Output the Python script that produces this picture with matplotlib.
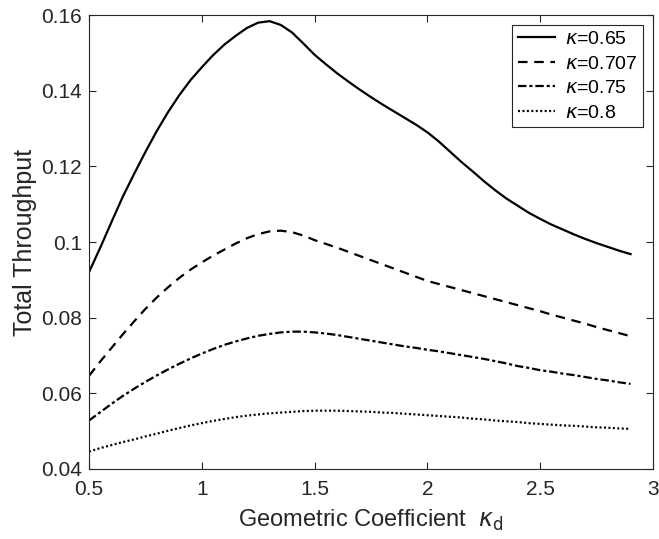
import numpy as np
import matplotlib
matplotlib.use("Agg")
import matplotlib.pyplot as plt

x = [0.5, 0.55, 0.6, 0.65, 0.7, 0.75, 0.8, 0.85, 0.9, 0.95,
     1.0, 1.05, 1.1, 1.15, 1.2, 1.25, 1.3, 1.35, 1.4, 1.45,
     1.5, 1.55, 1.6, 1.65, 1.7, 1.75, 1.8, 1.85, 1.9, 1.95,
     2.0, 2.05, 2.1, 2.15, 2.2, 2.25, 2.3, 2.35, 2.4, 2.45,
     2.5, 2.55, 2.6, 2.65, 2.7, 2.75, 2.8, 2.85, 2.9]

k065 = [0.0920, 0.0985, 0.1053, 0.1120, 0.1180, 0.1238, 0.1293, 0.1343, 0.1388, 0.1428,
        0.1462, 0.1494, 0.1522, 0.1545, 0.1566, 0.1580, 0.1584, 0.1574, 0.1554, 0.1525,
        0.1495, 0.1470, 0.1446, 0.1424, 0.1403, 0.1383, 0.1364, 0.1346, 0.1328, 0.1310,
        0.1290, 0.1266, 0.1239, 0.1212, 0.1187, 0.1161, 0.1137, 0.1115, 0.1096, 0.1077,
        0.1061, 0.1046, 0.1033, 0.1020, 0.1008, 0.0997, 0.0987, 0.0977, 0.0968]
k0707 = [0.0646, 0.0684, 0.0720, 0.0756, 0.0790, 0.0823, 0.0853, 0.0880, 0.0905, 0.0927,
         0.0946, 0.0964, 0.0980, 0.0996, 0.1010, 0.1021, 0.1028, 0.1030, 0.1026, 0.1017,
         0.1005, 0.0995, 0.0985, 0.0974, 0.0963, 0.0952, 0.0941, 0.0930, 0.0919, 0.0908,
         0.0897, 0.0889, 0.0881, 0.0873, 0.0865, 0.0857, 0.0849, 0.0841, 0.0833, 0.0825,
         0.0817, 0.0808, 0.0800, 0.0792, 0.0784, 0.0775, 0.0767, 0.0759, 0.0751]
k075 = [0.0528, 0.0550, 0.0572, 0.0593, 0.0612, 0.0630, 0.0647, 0.0663, 0.0678, 0.0692,
        0.0705, 0.0717, 0.0728, 0.0737, 0.0745, 0.0752, 0.0757, 0.0761, 0.0763, 0.0763,
        0.0761, 0.0758, 0.0754, 0.0749, 0.0744, 0.0739, 0.0734, 0.0729, 0.0724, 0.0720,
        0.0715, 0.0711, 0.0706, 0.0701, 0.0696, 0.0691, 0.0685, 0.0679, 0.0672, 0.0667,
        0.0661, 0.0657, 0.0652, 0.0648, 0.0643, 0.0638, 0.0634, 0.0629, 0.0625]
k080 = [0.0446, 0.0455, 0.0463, 0.0471, 0.0478, 0.0486, 0.0493, 0.0501, 0.0508, 0.0515,
        0.0521, 0.0527, 0.0532, 0.0537, 0.0541, 0.0544, 0.0547, 0.0549, 0.0551, 0.0553,
        0.0554, 0.0554, 0.0554, 0.0553, 0.0552, 0.0551, 0.0549, 0.0548, 0.0546, 0.0544,
        0.0542, 0.0540, 0.0538, 0.0536, 0.0533, 0.0531, 0.0528, 0.0526, 0.0524, 0.0521,
        0.0519, 0.0517, 0.0515, 0.0514, 0.0512, 0.0510, 0.0509, 0.0507, 0.0506]

labels = [r"$\kappa$=0.65", r"$\kappa$=0.707", r"$\kappa$=0.75", r"$\kappa$=0.8"]
xticks = [0.5, 1, 1.5, 2, 2.5, 3]
xticklabels = ['0.5', '1', '1.5', '2', '2.5', '3']
yticks = [0.04, 0.06, 0.08, 0.1, 0.12, 0.14, 0.16]
yticklabels = ['0.04', '0.06', '0.08', '0.1', '0.12', '0.14', '0.16']

plt.rcParams['font.family'] = ['Liberation Sans', 'DejaVu Sans']
plt.rcParams['mathtext.fontset'] = 'dejavusans'

gray = '#262626'
fig = plt.figure(figsize=(6.59, 5.39), dpi=100)
ax = fig.add_axes([0.135, 0.130, 0.856, 0.842])

ax.plot(x, k065, color='black', lw=1.6, linestyle='-', label=labels[0])
ax.plot(x, k0707, color='black', lw=1.6, linestyle=(0, (4.3, 3)), label=labels[1])
ax.plot(x, k075, color='black', lw=1.6, linestyle=(0, (3.8, 1.3, 1.4, 1.3)), label=labels[2])
ax.plot(x, k080, color='black', lw=1.6, linestyle=(0, (0.9, 1.1)), label=labels[3])

ax.set_xlim(0.5, 3)
ax.set_ylim(0.04, 0.16)
ax.set_xticks(xticks)
ax.set_xticklabels(xticklabels)
ax.set_yticks(yticks)
ax.set_yticklabels(yticklabels)
ax.tick_params(direction='in', top=True, right=True, length=5, width=0.8,
               colors=gray, labelsize=15, labelcolor=gray)
ax.tick_params(axis='x', pad=8)
ax.tick_params(axis='y', pad=5)
for s in ax.spines.values():
    s.set_color(gray)
    s.set_linewidth(0.8)

ax.set_xlabel(r"Geometric Coefficient  $\kappa_\mathrm{d}$", fontsize=17, color=gray, labelpad=6)
ax.set_ylabel("Total Throughput", fontsize=18, color=gray, labelpad=3)

leg = ax.legend(loc='upper right', fontsize=14, frameon=True, fancybox=False,
                edgecolor=gray, framealpha=1, handlelength=1.9, handletextpad=0.5,
                borderpad=0.3, labelspacing=0.35, borderaxespad=0.5)
leg.get_frame().set_linewidth(0.8)

fig.savefig("out.png", dpi=100)
